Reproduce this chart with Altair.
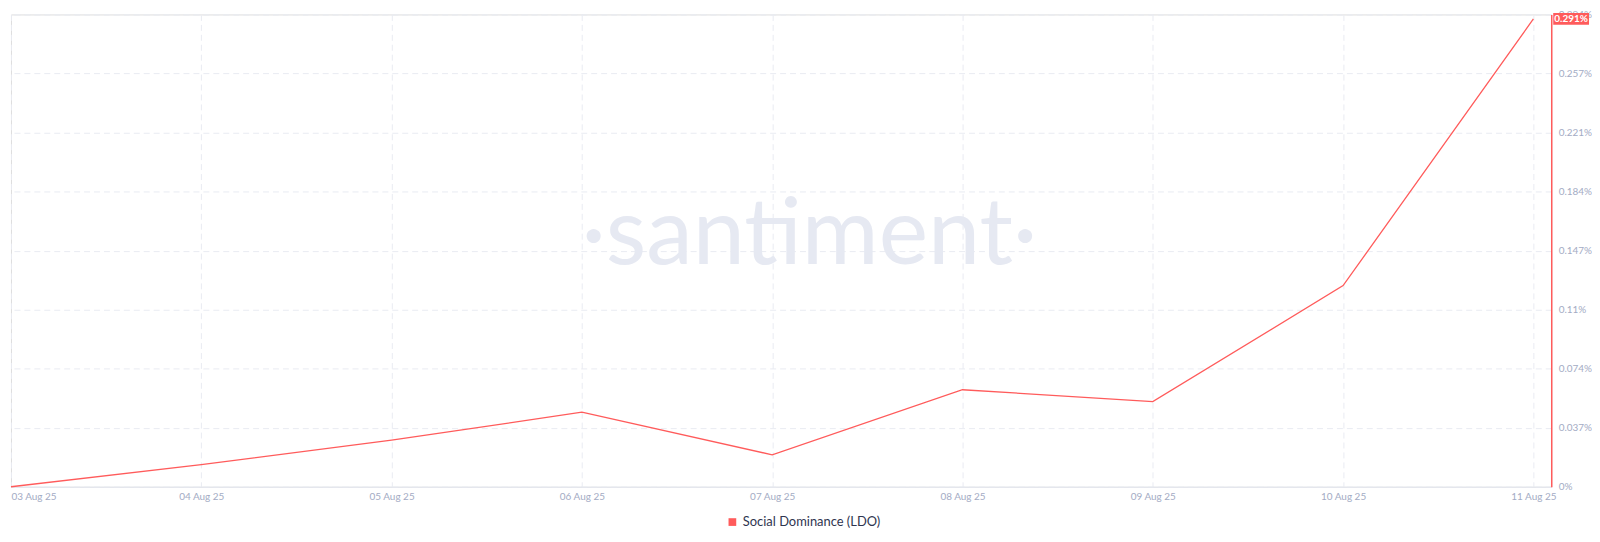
import altair as alt
import pandas as pd

# ---- data ----
dates = ["2025-08-03", "2025-08-04", "2025-08-05", "2025-08-06", "2025-08-07",
         "2025-08-08", "2025-08-09", "2025-08-10", "2025-08-11"]
values = [0.0, 0.0138, 0.0290, 0.0464, 0.0199, 0.0604, 0.0530, 0.1252, 0.2912]
series_name = "Social Dominance (LDO)"
y_ticks = [0, 0.03675, 0.0735, 0.11025, 0.147, 0.18375, 0.2205, 0.25725, 0.294]
y_labels = ["0%", "0.037%", "0.074%", "0.11%", "0.147%", "0.184%", "0.221%", "0.257%", "0.294%"]
last_label = "0.291%"
watermark = "\u00b7santiment\u00b7"

W, H = 1549, 475
RED = "#ff5b5b"
GREY = "#a3abc4"
FONT = "Lato"

df = pd.DataFrame({"date": dates, "value": values, "series": series_name})
last = df.tail(1).assign(label=last_label)

label_expr = "[" + ",".join("'%s'" % s for s in y_labels) + "][round(datum.value/%s)]" % y_ticks[1]

x_enc = alt.X(
    "date:T",
    scale=alt.Scale(type="utc",
                    domain=[alt.DateTime(year=2025, month=8, date=3, utc=True),
                            alt.DateTime(year=2025, month=8, date=11, hours=2, minutes=15, utc=True)]),
    axis=alt.Axis(
        title=None,
        values=[alt.DateTime(year=2025, month=8, date=int(d[-2:]), utc=True) for d in dates],
        format="%d %b %y",
        labelFlush=True,
        labelColor=GREY, labelFontSize=10, labelFont=FONT, labelPadding=5,
        ticks=False, domainColor="#e3e6ee", domainWidth=1,
        grid=True, gridColor="#e9ebf2", gridDash=[6, 4], gridWidth=1,
    ),
)
y_enc = alt.Y(
    "value:Q",
    scale=alt.Scale(domain=[0, y_ticks[-1]], nice=False, zero=True),
    axis=alt.Axis(
        title=None, orient="right", values=y_ticks, labelExpr=label_expr,
        labelColor=GREY, labelFontSize=10, labelFont=FONT, labelPadding=7,
        ticks=False, domainColor=RED, domainWidth=1.5,
        grid=True, gridColor="#e9ebf2", gridDash=[6, 4], gridWidth=1,
        labelBaseline="middle",
    ),
)

wm = alt.Chart(pd.DataFrame({"t": [watermark]})).mark_text(
    font="Lato", fontSize=94, color="#e6e9f2",
    align="center", baseline="alphabetic",
).encode(x=alt.value(803), y=alt.value(251), text="t:N")

line = alt.Chart(df).mark_line(strokeWidth=1.3).encode(
    x=x_enc, y=y_enc,
    color=alt.Color("series:N", scale=alt.Scale(range=[RED]),
                    legend=alt.Legend(title=None, orient="none", legendX=719, legendY=504,
                                      symbolType="square", symbolSize=60,
                                      symbolFillColor=RED, symbolStrokeColor=RED,
                                      symbolStrokeWidth=0,
                                      labelFontSize=13, labelFont=FONT, labelColor="#2f3550",
                                      labelOffset=4)),
)

box = alt.Chart(last).mark_point(
    shape="M-1,-0.33L1,-0.33L1,0.33L-1,0.33Z", filled=True, opacity=1, color=RED, size=1296,
).encode(x=alt.value(W + 20), y=alt.Y("value:Q"))

box_txt = alt.Chart(last).mark_text(
    color="white", fontSize=10, font=FONT, fontWeight="bold", align="center", baseline="middle",
).encode(x=alt.value(W + 20), y=alt.Y("value:Q"), text="label:N")

chart = alt.layer(wm, line, box, box_txt).properties(width=W, height=H).configure_view(
    stroke=None).configure(padding=0)

chart.save("out.html", embed_options={"renderer": "svg", "actions": False})
